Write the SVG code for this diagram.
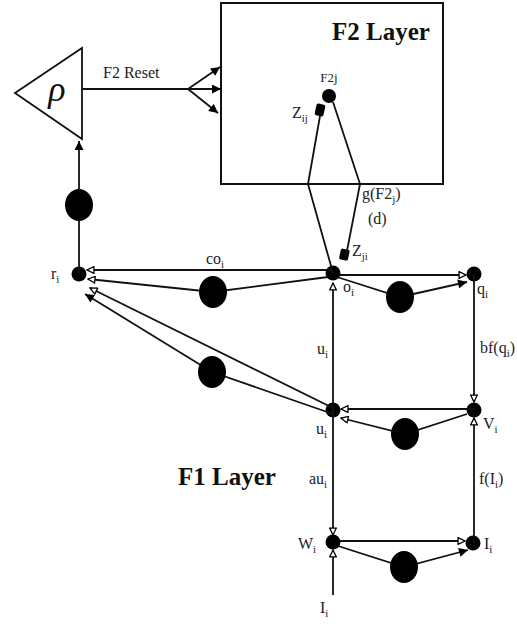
<svg xmlns="http://www.w3.org/2000/svg" width="517" height="627" viewBox="0 0 517 627">
<defs>
<style>
.ln{fill:none;stroke:#111;stroke-width:1.8}
.dot{fill:#000}
.t{font-family:"Liberation Serif","Times New Roman",serif;font-size:16px;fill:#222}
.sub{font-size:11px}
.big{font-family:"Liberation Serif","Times New Roman",serif;font-size:25px;font-weight:bold;fill:#111}
</style>
<marker id="open" viewBox="0 0 10 10" refX="9.5" refY="5" markerUnits="userSpaceOnUse" markerWidth="9" markerHeight="8" orient="auto">
<path d="M0.8,0.8 L9.5,5 L0.8,9.2 z" fill="#fff" stroke="#000" stroke-width="1.6"/>
</marker>
<marker id="fill" viewBox="0 0 10 10" refX="10" refY="5" markerUnits="userSpaceOnUse" markerWidth="11" markerHeight="9" orient="auto">
<path d="M0,0 L10,5 L0,10 z" fill="#000"/>
</marker>
</defs>
<rect width="517" height="627" fill="#fff"/>

<g id="rho">
<polygon points="15,93 82,48 82,139" fill="none" stroke="#111" stroke-width="1.8"/>
<text x="57" y="101" text-anchor="middle" style="font-family:'Liberation Serif',serif;font-size:36px;font-style:italic;fill:#111">ρ</text>
</g>

<g id="f2layer">
<rect x="221" y="3" width="222" height="181" fill="none" stroke="#111" stroke-width="2"/>
<text class="big" x="332" y="40">F2 Layer</text>
</g>

<g id="F2j">
<circle cx="329" cy="96" r="7" class="dot"/>
<text class="t" x="329" y="82" text-anchor="middle" style="font-size:13px">F2j</text>
</g>
<g id="Zij">
<rect x="315.5" y="104" width="9" height="12" rx="2" class="dot" transform="rotate(12 320 110)"/>
<text class="t" x="292" y="118">Z<tspan class="sub" dy="4">ij</tspan></text>
</g>
<g id="Zji">
<rect x="340" y="249" width="9" height="11" rx="2" class="dot" transform="rotate(12 344 254)"/>
<text class="t" x="352" y="256">Z<tspan class="sub" dy="4">ji</tspan></text>
</g>

<g id="ri"><circle cx="79" cy="274" r="7.5" class="dot"/><text class="t" x="51" y="279">r<tspan class="sub" dy="4">i</tspan></text></g>
<g id="oi"><circle cx="333" cy="273" r="7.5" class="dot"/><text class="t" x="343" y="292">o<tspan class="sub" dy="4">i</tspan></text></g>
<g id="qi"><circle cx="474" cy="274" r="7.5" class="dot"/><text class="t" x="477" y="294">q<tspan class="sub" dy="4">i</tspan></text></g>
<g id="ui"><circle cx="333" cy="410" r="7.5" class="dot"/><text class="t" x="316" y="434">u<tspan class="sub" dy="4">i</tspan></text></g>
<g id="Vi"><circle cx="474" cy="410" r="7.5" class="dot"/><text class="t" x="483" y="429">V<tspan class="sub" dy="4">i</tspan></text></g>
<g id="Wi"><circle cx="333" cy="542" r="7.5" class="dot"/><text class="t" x="298" y="549">W<tspan class="sub" dy="4">i</tspan></text></g>
<g id="Ii"><circle cx="473" cy="543" r="7.5" class="dot"/><text class="t" x="484" y="549">I<tspan class="sub" dy="4">i</tspan></text></g>

<g id="f1label"><text class="big" x="178" y="485">F1 Layer</text></g>

<g id="connectors">
<line class="ln" x1="79" y1="274" x2="79" y2="141" marker-end="url(#fill)"/>
<ellipse cx="79" cy="205" rx="14" ry="16" class="dot"/>
<line class="ln" x1="82" y1="89" x2="188" y2="89"/>
<line class="ln" x1="188" y1="89" x2="220" y2="67" marker-end="url(#fill)"/>
<line class="ln" x1="188" y1="89" x2="221" y2="89" marker-end="url(#fill)"/>
<line class="ln" x1="188" y1="89" x2="218" y2="113" marker-end="url(#fill)"/>
<text class="t" x="103" y="78">F2 Reset</text>
<polyline class="ln" points="320,116 308,184 333,273"/>
<polyline class="ln" points="333,102 360,184 346,256"/>
<text class="t" x="362" y="199">g(F2<tspan class="sub" dy="4">j</tspan><tspan dy="-4">)</tspan></text>
<text class="t" x="368" y="224">(d)</text>
<line class="ln" x1="333" y1="270" x2="87" y2="270" marker-end="url(#open)"/>
<text class="t" x="206" y="264">co<tspan class="sub" dy="4">i</tspan></text>
<polyline class="ln" points="328,277 213,292 88,279" marker-end="url(#open)"/>
<ellipse cx="213" cy="292" rx="14" ry="16" class="dot"/>
<line class="ln" x1="333" y1="408" x2="90" y2="288" marker-end="url(#open)"/>
<polyline class="ln" points="333,414 212,372 85,294" marker-end="url(#fill)"/>
<ellipse cx="212" cy="372" rx="14" ry="16" class="dot"/>
<line class="ln" x1="340" y1="275" x2="466" y2="275" marker-end="url(#open)"/>
<polyline class="ln" points="337,277 400,297 467,282" marker-end="url(#fill)"/>
<ellipse cx="400" cy="297" rx="14" ry="16" class="dot"/>
<line class="ln" x1="333" y1="410" x2="333" y2="283" marker-end="url(#open)"/>
<text class="t" x="317" y="354">u<tspan class="sub" dy="4">i</tspan></text>
<line class="ln" x1="474" y1="274" x2="474" y2="402" marker-end="url(#open)"/>
<text class="t" x="480" y="353">bf(q<tspan class="sub" dy="4">i</tspan><tspan dy="-4">)</tspan></text>
<line class="ln" x1="474" y1="409" x2="341" y2="409" marker-end="url(#open)"/>
<polyline class="ln" points="467,414 405,434 341,418" marker-end="url(#open)"/>
<ellipse cx="405" cy="434" rx="14" ry="16" class="dot"/>
<line class="ln" x1="333" y1="410" x2="333" y2="535" marker-end="url(#open)"/>
<text class="t" x="309" y="484">au<tspan class="sub" dy="4">i</tspan></text>
<line class="ln" x1="474" y1="543" x2="474" y2="418" marker-end="url(#open)"/>
<text class="t" x="479" y="484">f(I<tspan class="sub" dy="4">i</tspan><tspan dy="-4">)</tspan></text>
<line class="ln" x1="340" y1="541" x2="465" y2="541" marker-end="url(#open)"/>
<polyline class="ln" points="338,546 404,567 468,550" marker-end="url(#fill)"/>
<ellipse cx="404" cy="567" rx="14" ry="16" class="dot"/>
<line class="ln" x1="333" y1="595" x2="333" y2="550" marker-end="url(#open)"/>
<text class="t" x="320" y="613">I<tspan class="sub" dy="4">i</tspan></text>
</g>
</svg>
